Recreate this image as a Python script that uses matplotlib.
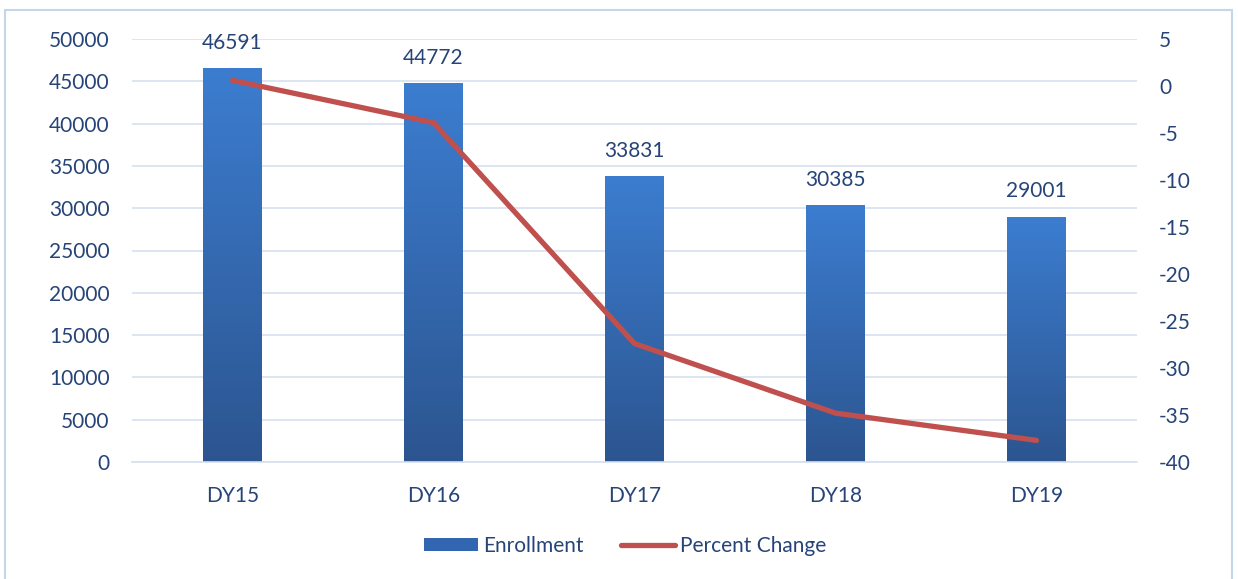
import matplotlib
matplotlib.use("Agg")
import matplotlib.pyplot as plt
import numpy as np
from matplotlib.patches import Rectangle
from matplotlib.lines import Line2D
from matplotlib.colors import LinearSegmentedColormap

categories = ["DY15", "DY16", "DY17", "DY18", "DY19"]
enrollment = [46591, 44772, 33831, 30385, 29001]
percent_change = [0.6, -3.9, -27.4, -34.8, -37.7]

plt.rcParams['font.family'] = ['Lato', 'DejaVu Sans']
plt.rcParams['axes.unicode_minus'] = False
txt = '#264478'
grid_c = '#D6E0EF'
fs = 15

fig = plt.figure(figsize=(12.38, 5.79), dpi=100)
fig.patches.append(Rectangle((5/1238, -0.01), 1227/1238, 1 - 10/579 + 0.01, transform=fig.transFigure,
                             fill=False, edgecolor='#C5D5EA', linewidth=1.5))
ax = fig.add_axes([132/1238, 1-462/579, (1137-132)/1238, (462-39)/579])
x = np.arange(len(categories))
w = 0.29
bars = ax.bar(x, enrollment, width=w, color='none', zorder=2)
grad = np.linspace(0, 1, 256).reshape(-1, 1)
cmap = LinearSegmentedColormap.from_list('g', ['#2C5590', '#3C7DD0'])
for b in bars:
    x0, y0 = b.get_x(), b.get_y()
    im = ax.imshow(grad, extent=[x0, x0 + b.get_width(), y0, y0 + b.get_height()],
                   origin='lower', cmap=cmap, aspect='auto', zorder=2)
    im.set_clip_path(b)
ax.set_xlim(-0.5, 4.5)
ax.set_ylim(0, 50000)
for xi, v in zip(x, enrollment):
    ax.annotate(str(v), (xi, v), xytext=(0, 11), textcoords='offset points',
                ha='center', va='bottom', fontsize=fs, color=txt)
ax.set_yticks(np.arange(0, 50001, 5000))
ax.yaxis.grid(True, color=grid_c, linewidth=1.2, zorder=0)
ax.set_axisbelow(True)
ax.set_xticks(x)
ax.set_xticklabels(categories)
for s in ax.spines.values():
    s.set_visible(False)
ax.spines['bottom'].set_visible(True)
ax.spines['bottom'].set_color(grid_c)
ax.spines['bottom'].set_linewidth(1.2)
ax.tick_params(axis='both', length=0, labelsize=fs, colors=txt)
ax.tick_params(axis='x', pad=17)
ax.tick_params(axis='y', pad=16)

ax2 = ax.twinx()
ax2.plot(x, percent_change, color='#C0504D', linewidth=3.8, solid_capstyle='round', zorder=5)
ax2.set_ylim(-40, 5)
ax2.set_yticks(np.arange(-40, 6, 5))
for s in ax2.spines.values():
    s.set_visible(False)
ax2.tick_params(axis='y', length=0, labelsize=fs, colors=txt, pad=16)

handles = [Rectangle((0, 0), 1, 1, facecolor='#3266B0'),
           Line2D([0], [0], color='#C0504D', linewidth=3.8, solid_capstyle='round')]
fig.legend(handles, ['Enrollment', 'Percent Change'], loc='center', bbox_to_anchor=(0.505, 1-546/579),
           ncol=2, frameon=False, fontsize=fs, labelcolor=txt, handlelength=2.6, handletextpad=0.25,
           columnspacing=1.8, handleheight=0.55)
fig.savefig('out.png', dpi=100)
